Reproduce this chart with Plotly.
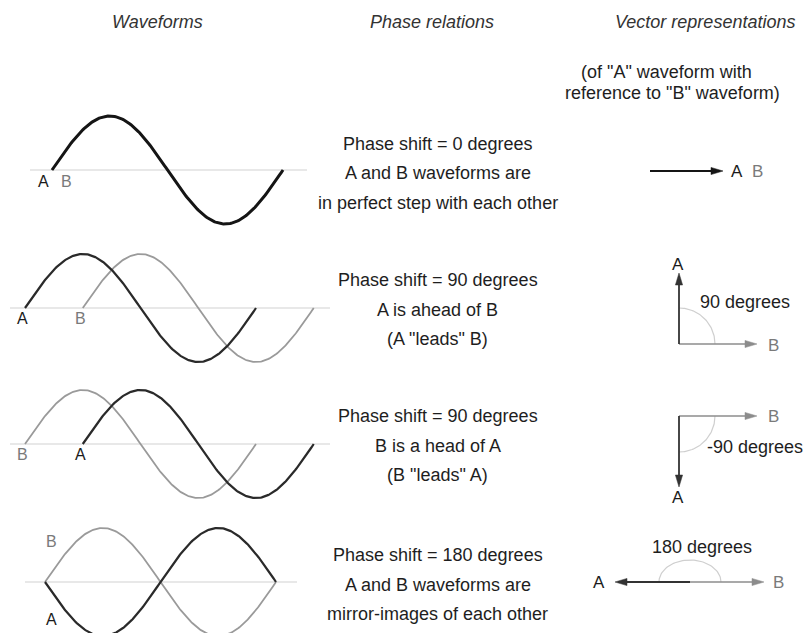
import numpy as np
import plotly.graph_objects as go

W, H = 803, 633

# ---------------- data ----------------
column_titles = ["Waveforms", "Phase relations", "Vector representations"]
vector_note = ['(of "A" waveform with', 'reference to "B" waveform)']
phase_deg = [0, 90, -90, 180]          # phase of A with reference to B
a_start_deg = [0, 0, 90, 0]            # where waveform A is drawn from
b_start_deg = [0, 90, 0, 0]            # where waveform B is drawn from
wave_span_deg = 360
relation_lines = [
    ["Phase shift = 0 degrees", "A and B waveforms are", "in perfect step with each other"],
    ["Phase shift = 90 degrees", "A is ahead of B", '(A "leads" B)'],
    ["Phase shift = 90 degrees", "B is a head of A", '(B "leads" A)'],
    ["Phase shift = 180 degrees", "A and B waveforms are", "mirror-images of each other"],
]
angle_labels = ["", "90 degrees", "-90 degrees", "180 degrees"]
series_names = ["A", "B"]

# ---------------- layout (pixel geometry) ----------------
PX_PER_DEG = 231 / 360.0
AMP_PX = 54
rows = [
    dict(x0=52, yb=170, base=(30, 307), labA=(43, 181), labB=(66, 181), lwA=3.0, colA="#151515",
         org=(650, 171), LA=73, LB=73, vlabA=(737, 171), vlabB=(757, 171), arc=None, alab=None, text_y=144),
    dict(x0=25, yb=308, base=(10, 330), labA=(22, 318), labB=(80, 318), lwA=2.2, colA="#2a2a2a",
         org=(679, 344), LA=71, LB=78, vlabA=(678, 265), vlabB=(773, 345), arc=(36, 36), alab=(745, 302), text_y=280),
    dict(x0=25, yb=444, base=(10, 330), labA=(80, 455), labB=(22, 454), lwA=2.2, colA="#2a2a2a",
         org=(679, 416), LA=71, LB=78, vlabA=(678, 497), vlabB=(773, 416), arc=(36, 36), alab=(755, 447), text_y=416),
    dict(x0=45, yb=582, base=(25, 297), labA=(51, 619), labB=(52, 541), lwA=2.2, colA="#2a2a2a",
         org=(690, 582), LA=75, LB=74, vlabA=(599, 582), vlabB=(778, 582), arc=(31, 22), alab=(702, 547), text_y=555),
]

FONT = "Liberation Sans, Arial, sans-serif"
GRAY_B = "#9a9a9a"
BASE_COL = "#d2d2d2"
TXT = 18

fig = go.Figure()
layout_axes = {}

def px2paper(x, y):
    return x / W, 1 - y / H

annotations = []

for i, r in enumerate(rows):
    k = i + 1
    xa = "x" if k == 1 else f"x{k}"
    ya = "y" if k == 1 else f"y{k}"
    xname = "xaxis" if k == 1 else f"xaxis{k}"
    yname = "yaxis" if k == 1 else f"yaxis{k}"
    layout_axes[xname] = dict(domain=[0, 1], range=[-r["x0"] / PX_PER_DEG, (W - r["x0"]) / PX_PER_DEG],
                              visible=False, fixedrange=True, anchor=ya)
    layout_axes[yname] = dict(domain=[0, 1], range=[(r["yb"] - H) / AMP_PX, r["yb"] / AMP_PX],
                              visible=False, fixedrange=True, anchor=xa)
    # baseline
    bx = [(r["base"][0] - r["x0"]) / PX_PER_DEG, (r["base"][1] - r["x0"]) / PX_PER_DEG]
    fig.add_trace(go.Scatter(x=bx, y=[0, 0], mode="lines", line=dict(color=BASE_COL, width=1.2),
                             xaxis=xa, yaxis=ya, hoverinfo="skip", showlegend=False))
    # waveform B
    xb = np.linspace(b_start_deg[i], b_start_deg[i] + wave_span_deg, 241)
    yb = np.sin(np.radians(xb - b_start_deg[i]))
    fig.add_trace(go.Scatter(x=xb, y=yb, mode="lines", line=dict(color=GRAY_B, width=1.8),
                             xaxis=xa, yaxis=ya, name="B", showlegend=False))
    # waveform A
    xA = np.linspace(a_start_deg[i], a_start_deg[i] + wave_span_deg, 241)
    yA = np.sin(np.radians(xA - b_start_deg[i] + phase_deg[i]))
    fig.add_trace(go.Scatter(x=xA, y=yA, mode="lines", line=dict(color=r["colA"], width=r["lwA"]),
                             xaxis=xa, yaxis=ya, name="A", showlegend=False))
    # waveform labels
    for nm, pos, col in (("A", r["labA"], "#1a1a1a"), ("B", r["labB"], "#7a7a7a")):
        px, py = px2paper(*pos)
        annotations.append(dict(x=px, y=py, xref="paper", yref="paper", text=nm, showarrow=False,
                                font=dict(family=FONT, size=16, color=col), xanchor="center", yanchor="middle"))
    # relation text
    for j, line in enumerate(relation_lines[i]):
        px, py = px2paper(438, r["text_y"] + j * 29.5)
        annotations.append(dict(x=px, y=py, xref="paper", yref="paper", text=line, showarrow=False,
                                font=dict(family=FONT, size=TXT, color="#1e1e1e"), xanchor="center", yanchor="middle"))

# canvas axis for vector diagrams (pixel units)
layout_axes["xaxis5"] = dict(domain=[0, 1], range=[0, W], visible=False, fixedrange=True, anchor="y5")
layout_axes["yaxis5"] = dict(domain=[0, 1], range=[H, 0], visible=False, fixedrange=True, anchor="x5")

def arrow(ox, oy, ang_deg, length, color, width, head_len=12, head_hw=3.6):
    a = np.radians(ang_deg)
    d = np.array([np.cos(a), -np.sin(a)])
    n = np.array([-d[1], d[0]])
    o = np.array([ox, oy])
    tip = o + d * length
    base = tip - d * head_len
    fig.add_trace(go.Scatter(x=[o[0], base[0]], y=[o[1], base[1]], mode="lines",
                             line=dict(color=color, width=width), xaxis="x5", yaxis="y5",
                             hoverinfo="skip", showlegend=False))
    tri = [tip, base + n * head_hw, base - n * head_hw, tip]
    fig.add_trace(go.Scatter(x=[p[0] for p in tri], y=[p[1] for p in tri], mode="lines", fill="toself",
                             fillcolor=color, line=dict(color=color, width=0.5), xaxis="x5", yaxis="y5",
                             hoverinfo="skip", showlegend=False))

for i, r in enumerate(rows):
    ox, oy = r["org"]
    # angle arc
    if r["arc"] is not None and phase_deg[i] != 0:
        rx, ry = r["arc"]
        t = np.radians(np.linspace(0, phase_deg[i], 60))
        fig.add_trace(go.Scatter(x=ox + rx * np.cos(t), y=oy - ry * np.sin(t), mode="lines",
                                 line=dict(color="#cfcfcf", width=1.2), xaxis="x5", yaxis="y5",
                                 hoverinfo="skip", showlegend=False))
        px, py = px2paper(*r["alab"])
        annotations.append(dict(x=px, y=py, xref="paper", yref="paper", text=angle_labels[i], showarrow=False,
                                font=dict(family=FONT, size=TXT, color="#1e1e1e"), xanchor="center", yanchor="middle"))
    # B vector (reference, angle 0), A vector at phase
    if phase_deg[i] != 0:
        arrow(ox, oy, 0, r["LB"], "#8c8c8c", 1.6)
        arrow(ox, oy, phase_deg[i], r["LA"], "#333333", 1.8)
    else:
        arrow(ox, oy, 0, r["LA"], "#151515", 2.2)
    for nm, pos, col in (("A", r["vlabA"], "#1a1a1a"), ("B", r["vlabB"], "#7a7a7a")):
        px, py = px2paper(*pos)
        annotations.append(dict(x=px, y=py, xref="paper", yref="paper", text=nm, showarrow=False,
                                font=dict(family=FONT, size=17, color=col), xanchor="center", yanchor="middle"))

# headers
for title, cx in zip(column_titles, [157, 432, 705]):
    px, py = px2paper(cx, 22)
    annotations.append(dict(x=px, y=py, xref="paper", yref="paper", text=f"<i>{title}</i>", showarrow=False,
                            font=dict(family=FONT, size=TXT, color="#333333"), xanchor="center", yanchor="middle"))
for line, (cx, cy) in zip(vector_note, [(666, 72), (672, 93)]):
    px, py = px2paper(cx, cy)
    annotations.append(dict(x=px, y=py, xref="paper", yref="paper", text=line, showarrow=False,
                            font=dict(family=FONT, size=TXT, color="#1e1e1e"), xanchor="center", yanchor="middle"))

fig.update_layout(width=W, height=H, margin=dict(l=0, r=0, t=0, b=0), paper_bgcolor="white",
                  plot_bgcolor="rgba(0,0,0,0)", showlegend=False, annotations=annotations, **layout_axes)
fig.write_html("out.html", config={"displayModeBar": False},
               post_script="document.body.style.margin='0';document.body.style.overflow='hidden';")
